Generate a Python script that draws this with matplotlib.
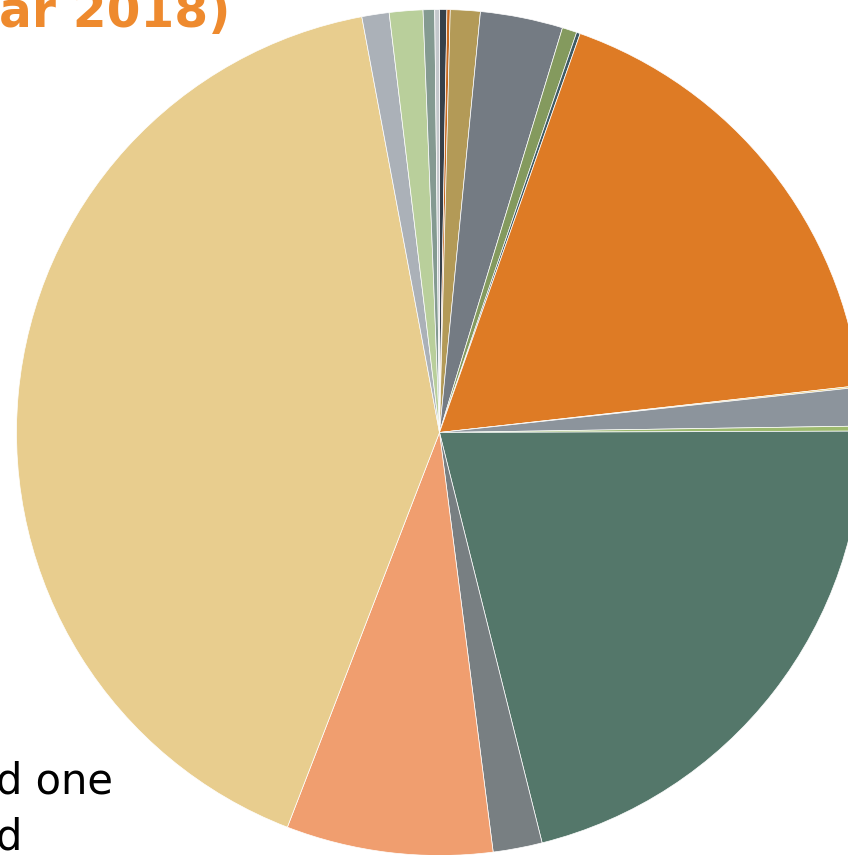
import matplotlib
matplotlib.use("Agg")
import matplotlib.pyplot as plt

# slice shares (percent), clockwise from 12 o'clock
share = [0.28, 0.125, 1.14, 3.15, 0.56, 0.14, 17.83, 0.06, 1.47, 0.19,
         21.15, 1.875, 7.88, 41.2, 1.04, 1.28, 0.44, 0.18]
colors = ['#36404a', '#c8681e', '#b39a57', '#747b83', '#849a5e', '#3e5a64',
          '#de7b25', '#e8c86e', '#8c949c', '#9dba6e', '#54776a', '#787f82',
          '#f09e6f', '#e8cd8e', '#abb1b8', '#b9cf9b', '#849a91', '#c4c8cc']

title_text = "ar 2018)"
note_lines = ["d one", "d"]

W, H = 848, 855
fig = plt.figure(figsize=(W / 100, H / 100), dpi=100)
ax = fig.add_axes([0, 0, 1, 1])

ax.pie(share, colors=colors, startangle=90, counterclock=False,
       center=(439.5, H - 432.5), radius=423,
       wedgeprops=dict(edgecolor='white', linewidth=0.5))

ax.set_xlim(0, W)
ax.set_ylim(0, H)
ax.set_aspect('equal')
ax.axis('off')

ax.text(-1, H - 27, title_text, color='#ee8a2e', fontsize=35,
        fontweight='bold', ha='left', va='baseline')
ax.text(-4, H - 793, note_lines[0], color='black', fontsize=30,
        ha='left', va='baseline')
ax.text(-4, H - 850, note_lines[1], color='black', fontsize=30,
        ha='left', va='baseline')

fig.savefig('out.png', dpi=100)
